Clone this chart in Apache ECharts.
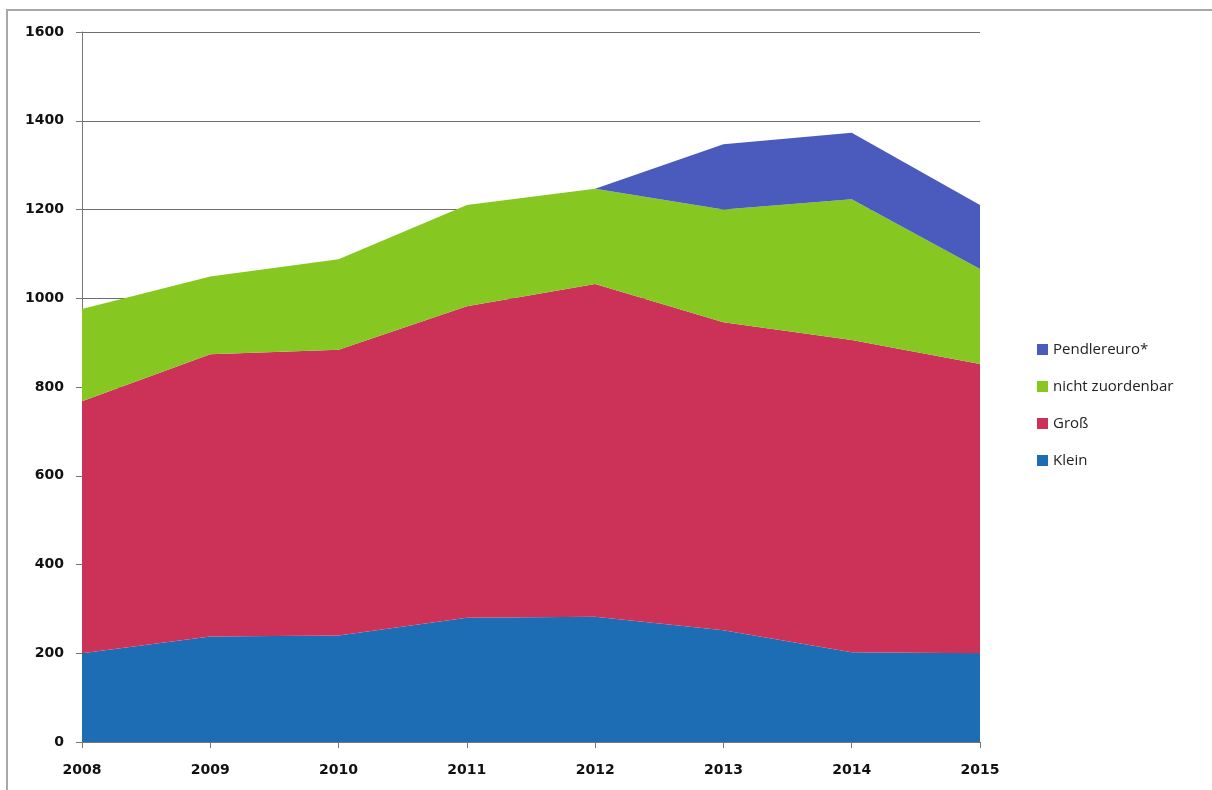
<!DOCTYPE html>
<html>
<head>
<meta charset="utf-8">
<script src="https://cdn.jsdelivr.net/npm/echarts@6/dist/echarts.min.js"></script>
<style>
html,body{margin:0;padding:0;background:#fff;}
#c{width:1212px;height:790px;}
</style>
</head>
<body>
<div id="c"></div>
<script>
const years = ['2008','2009','2010','2011','2012','2013','2014','2015'];
const klein = [200, 238, 240, 280, 282, 252, 202, 200];
const gross = [568, 636, 644, 702, 750, 694, 704, 652];
const nichtZuordenbar = [208, 175, 204, 228, 215, 254, 317, 214];
const pendlereuro = [0, 0, 0, 0, 0, 147, 150, 144];
const yTicks = [0, 200, 400, 600, 800, 1000, 1200, 1400, 1600];

const chart = echarts.init(document.getElementById('c'));
function areaSeries(name, data, color) {
  return {
    name: name,
    type: 'line',
    stack: 'total',
    data: data,
    symbol: 'none',
    lineStyle: { width: 0 },
    areaStyle: { color: color, opacity: 1 },
    itemStyle: { color: color },
    emphasis: { disabled: true }
  };
}
chart.setOption({
  animation: false,
  graphic: [{
    type: 'rect',
    shape: { x: 7, y: 10, width: 1220, height: 800 },
    style: { fill: 'none', stroke: '#a8a8a8', lineWidth: 2 },
    silent: true
  }],
  grid: { left: 82, right: 232, top: 32, bottom: 48, containLabel: false },
  legend: {
    orient: 'vertical',
    left: 1032,
    top: 337,
    itemWidth: 11,
    itemHeight: 11,
    itemGap: 22,
    icon: 'rect',
    textStyle: { fontFamily: 'Open Sans', fontSize: 15, color: '#222' },
    data: ['Pendlereuro*', 'nicht zuordenbar', 'Groß', 'Klein']
  },
  xAxis: {
    type: 'category',
    data: years,
    boundaryGap: false,
    axisLine: { lineStyle: { color: '#777', width: 1 } },
    axisTick: { show: true, length: 6, lineStyle: { color: '#777' } },
    axisLabel: { fontFamily: 'DejaVu Sans', fontWeight: 'bold', fontSize: 14, color: '#111', margin: 21 },
    splitLine: { show: false }
  },
  yAxis: {
    type: 'value',
    min: yTicks[0],
    max: yTicks[yTicks.length - 1],
    interval: 200,
    axisLine: { show: true, lineStyle: { color: '#777', width: 1 } },
    axisTick: { show: true, length: 6, lineStyle: { color: '#777' } },
    axisLabel: { fontFamily: 'DejaVu Sans', fontWeight: 'bold', fontSize: 14, color: '#111', margin: 18,
      formatter: function (v) { return String(v); } },
    splitLine: { show: true, lineStyle: { color: '#6e6e6e', width: 1 } }
  },
  series: [
    areaSeries('Klein', klein, '#1d6db5'),
    areaSeries('Groß', gross, '#cc3158'),
    areaSeries('nicht zuordenbar', nichtZuordenbar, '#86c721'),
    areaSeries('Pendlereuro*', pendlereuro, '#4b5bbd')
  ]
});
</script>
</body>
</html>
